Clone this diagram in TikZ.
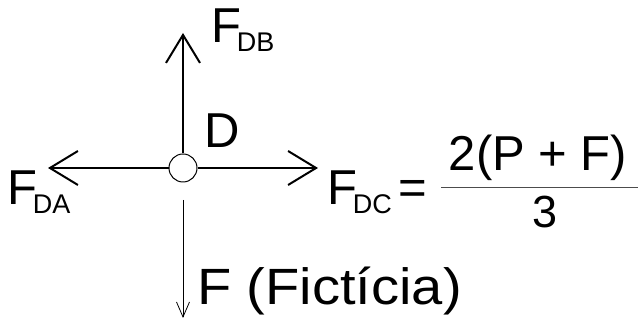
\documentclass[tikz,border=0pt]{standalone}
\usepackage{fontspec}
\setmainfont{Liberation Sans}
\newfontfamily\widefont[FakeStretch=1.1]{Liberation Sans}
\usetikzlibrary{arrows.meta}
\usetikzlibrary{positioning}

\newcommand{\subidx}[1]{\raisebox{-9pt}{\fontsize{27}{30}\selectfont #1}}

\tikzset{
    lbl/.style={inner sep=0, outer sep=0, anchor=base west, font=\fontsize{49}{52}\selectfont},
    force/.style={line width=2pt, -{Straight Barb[length=28pt, width=34pt, line width=2pt]}},
    fict/.style={line width=0.8pt, -{Straight Barb[length=15pt, width=13pt, line width=0.8pt]}}
}

\begin{document}
\begin{tikzpicture}[x=1pt, y=1pt]
    \useasboundingbox (0,0) rectangle (638,320);

    % node D and the free ends of the forces
    \node [circle, draw, line width=1pt, minimum size=28pt, inner sep=0] (nodeD) at (183,152) {};
    \coordinate (tipDB) at (183,287);
    \coordinate (tipDA) at (48,152);
    \coordinate (tipDC) at (318,152);
    \coordinate (startF) at (183,120);
    \coordinate (tipF) at (183,2);

    \draw [force] (nodeD.north) -- (tipDB);
    \draw [force] (nodeD.west) -- (tipDA);
    \draw [force] (nodeD.east) -- (tipDC);
    \draw [fict] (startF) -- (tipF);

    % labels
    \node [lbl] (labelD) at (204,172) {D};
    \node [lbl] (fdb) at (211,277) {F\kern-4pt\subidx{DB}};
    \node [lbl] (fda) at (7,115) {F\kern-4pt\subidx{DA}};
    \node [lbl] (fdc) at (327,115) {F\kern-4pt\subidx{DC}\kern7pt=};
    \node [lbl, font=\widefont\fontsize{51}{54}\selectfont] (fict) at (197,15) {F (Fictícia)};

    % fraction
    \coordinate (barL) at (441,132);
    \coordinate (barR) at (638,132);
    \draw [line width=1pt, black!70] (barL) -- (barR);
    \node [lbl, anchor=base] (num) at (538,149) {2(P + F)};
    \node [lbl, anchor=base, font=\fontsize{45}{48}\selectfont] (den) at (545,92) {3};
\end{tikzpicture}
\end{document}
